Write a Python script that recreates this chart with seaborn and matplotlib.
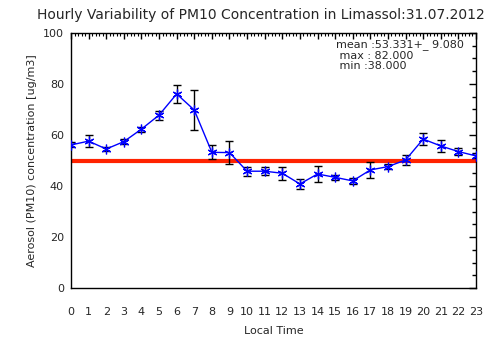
import numpy as np
import pandas as pd
import seaborn as sns
import matplotlib.pyplot as plt
from matplotlib.ticker import MultipleLocator

# hourly values
hours = list(range(24))
pm10 = [56.1, 57.6, 54.5, 57.4, 62.3, 67.8, 76.1, 69.8, 53.2, 53.1, 45.8, 45.8,
        45.0, 40.8, 44.7, 43.4, 42.0, 46.3, 47.6, 50.2, 58.4, 55.7, 53.5, 51.8]
pm10_err = [1.0, 2.3, 0.8, 1.0, 1.0, 1.8, 3.4, 7.8, 2.7, 4.4, 1.8, 1.5,
            2.5, 1.8, 3.0, 1.0, 1.2, 3.0, 1.0, 2.0, 2.2, 2.3, 1.4, 1.0]
limit_value = 50
stats_lines = ["mean :53.331+_ 9.080", " max : 82.000", " min :38.000"]

df = pd.DataFrame({"hour": hours, "pm10": pm10, "err": pm10_err})

sns.set_style("white")
plt.rcParams['font.family'] = ['DejaVu Sans']

fig = plt.figure(figsize=(5.04, 3.61), dpi=100)
ax = fig.add_axes([71 / 504, 1 - 288 / 361, 405 / 504, 255 / 361])

ax.axhline(limit_value, color="#ff2200", lw=3, zorder=2)
ax.errorbar(df["hour"], df["pm10"], yerr=df["err"], fmt="none", ecolor="black",
            elinewidth=1, capsize=3, capthick=1, zorder=3)
sns.lineplot(data=df, x="hour", y="pm10", ax=ax, color="blue", lw=1,
             marker=(6, 2, 0), markersize=7, markeredgecolor="blue",
             markeredgewidth=0.9, zorder=4)

ax.set_xlim(0, 23)
ax.set_ylim(0, 100)
ax.set_xticks(hours)
ax.set_xticklabels([str(h) for h in hours], fontsize=8)
ax.xaxis.set_minor_locator(MultipleLocator(0.2))
ax.yaxis.set_major_locator(MultipleLocator(20))
ax.yaxis.set_minor_locator(MultipleLocator(5))
ax.tick_params(axis="y", labelsize=8)
ax.tick_params(which="both", direction="in", top=True, right=True, color="black")
ax.tick_params(axis="y", which="major", length=5, width=1, pad=5)
ax.tick_params(axis="y", which="minor", length=3, width=1)
ax.tick_params(axis="x", which="major", length=4, width=1, pad=14)
ax.tick_params(axis="x", which="minor", length=2, width=0.8)
for s in ax.spines.values():
    s.set_color("black")
    s.set_linewidth(1)

ax.set_xlabel("Local Time", fontsize=8, labelpad=6)
ax.set_ylabel("Aerosol (PM10) concentration [ug/m3]", fontsize=8, labelpad=4)

ax.text(0.655, 0.975, "\n".join(stats_lines), transform=ax.transAxes,
        fontsize=8, va="top", ha="left", linespacing=1.05)

fig.text(37 / 504, 1 - 15 / 361,
         "Hourly Variability of PM10 Concentration in Limassol:31.07.2012",
         fontsize=10, ha="left", va="center")

plt.savefig("out.png", dpi=100)
